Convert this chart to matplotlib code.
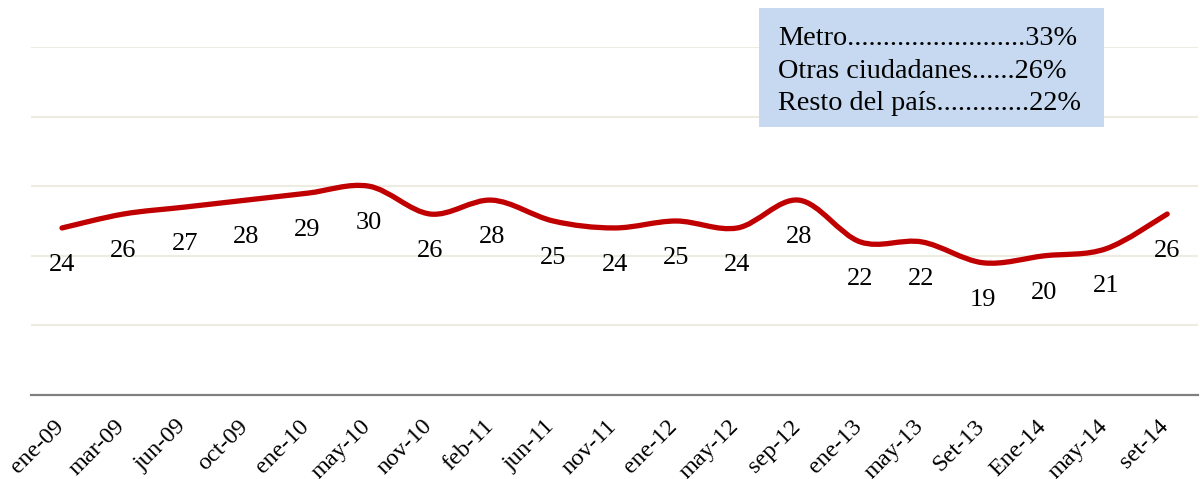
import matplotlib.pyplot as plt
from matplotlib.path import Path
from matplotlib.patches import PathPatch, Rectangle
from matplotlib.transforms import ScaledTranslation
import numpy as np

# data
months = ["ene-09", "mar-09", "jun-09", "oct-09", "ene-10", "may-10", "nov-10",
          "feb-11", "jun-11", "nov-11", "ene-12", "may-12", "sep-12", "ene-13",
          "may-13", "Set-13", "Ene-14", "may-14", "set-14"]
values = [24, 26, 27, 28, 29, 30, 26, 28, 25, 24, 25, 24, 28, 22, 22, 19, 20, 21, 26]
box_lines = ["Metro.........................33%",
             "Otras ciudadanes......26%",
             "Resto del país.............22%"]

plt.rcParams['font.family'] = ['Liberation Serif', 'DejaVu Serif']

fig = plt.figure(figsize=(12, 4.79), dpi=100)
ax = fig.add_axes([31.3 / 1200, 84 / 479, 1166.6 / 1200, 348 / 479])

x = np.arange(len(values))
y = np.array(values, dtype=float)

# smoothed line like excel (bezier through the points)
verts = [(x[0], y[0])]
codes = [Path.MOVETO]
n = len(x)
for i in range(n - 1):
    p0 = np.array([x[max(i - 1, 0)], y[max(i - 1, 0)]])
    p1 = np.array([x[i], y[i]])
    p2 = np.array([x[i + 1], y[i + 1]])
    p3 = np.array([x[min(i + 2, n - 1)], y[min(i + 2, n - 1)]])
    c1 = p1 + (p2 - p0) / 6
    c2 = p2 - (p3 - p1) / 6
    verts += [tuple(c1), tuple(c2), tuple(p2)]
    codes += [Path.CURVE4] * 3
ax.add_patch(PathPatch(Path(verts, codes), fill=False, edgecolor='#C00000',
                       lw=3.8, capstyle='round', joinstyle='round', zorder=3))

for xi, v in zip(x, values):
    ax.annotate(str(v), (xi, v), xytext=(0, -26.5), textcoords='offset points',
                ha='center', va='center', fontsize=19, color='black')

ax.set_xlim(-0.5, len(values) - 0.5)
ax.set_ylim(0, 50)
ax.set_yticks([10, 20, 30, 40, 50])
ax.yaxis.grid(True, color='#EEECE1', lw=1.5)
ax.set_axisbelow(True)
ax.tick_params(axis='y', left=False, labelleft=False)
ax.set_xticks(x)
ax.set_xticklabels(months, rotation=45, ha='right', va='top', rotation_mode='anchor',
                   fontsize=17.5)
ax.tick_params(axis='x', length=0, pad=15)
shift = ScaledTranslation(-9 / 100, 0, fig.dpi_scale_trans)
for lbl in ax.get_xticklabels():
    lbl.set_transform(lbl.get_transform() + shift)
for s in ['top', 'right', 'left']:
    ax.spines[s].set_visible(False)
ax.spines['bottom'].set_color('#808080')
ax.spines['bottom'].set_linewidth(1.6)

# text box
fig.patches.append(Rectangle((759 / 1200, 1 - 127 / 479), 345 / 1200, 119 / 479,
                             transform=fig.transFigure, facecolor='#C6D9F0',
                             edgecolor='none', zorder=5))
for k, line in enumerate(box_lines):
    fig.text(778 / 1200, 1 - (45 + k * 32.5) / 479, line, fontsize=20.3,
             ha='left', va='baseline', zorder=6)

fig.savefig('out.png', dpi=100)
